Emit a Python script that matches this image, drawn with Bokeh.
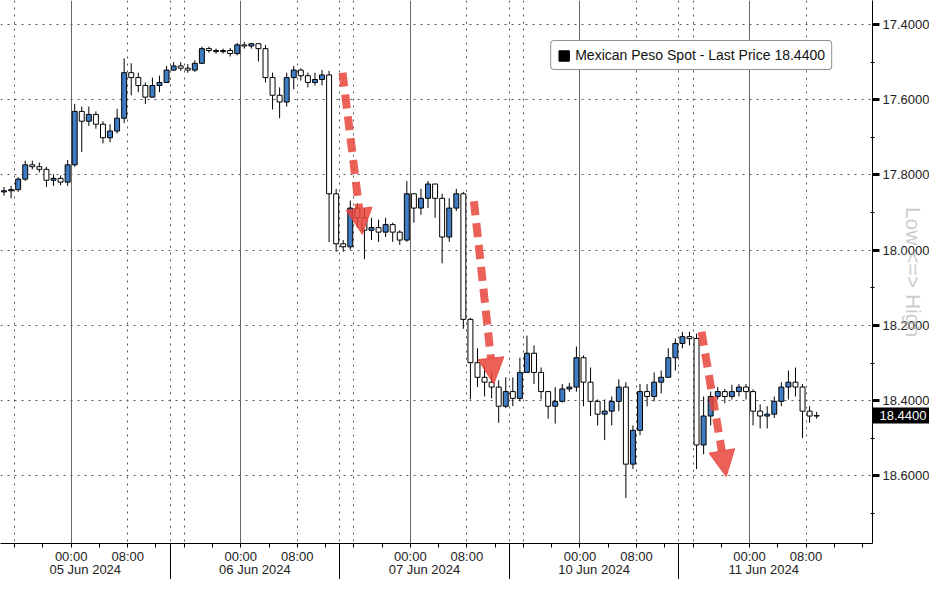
from bokeh.plotting import figure
from bokeh.models import (Range1d, FixedTicker, NumeralTickFormatter, LinearAxis, Grid,
                          Legend, LegendItem, Arrow, NormalHead, ColumnDataSource)
from bokeh.core.properties import value
from bokeh.embed import file_html
from bokeh.resources import INLINE

series_name = "Mexican Peso Spot"
last_price = 18.44

# hourly bars, hours counted from 05 Jun 2024 00:00 (weekend left out)
hours = list(range(-10, 106))
first_open = 17.845
closes = [
    17.842, 17.839, 17.811, 17.773, 17.778, 17.785, 17.814, 17.809, 17.819, 17.773,
    17.631, 17.657, 17.639, 17.665, 17.701, 17.683, 17.649, 17.528, 17.541, 17.562,
    17.593, 17.562, 17.554, 17.521, 17.510, 17.516, 17.521, 17.503, 17.464, 17.469,
    17.472, 17.469, 17.477, 17.454, 17.457, 17.451, 17.464, 17.541, 17.588, 17.606,
    17.541, 17.521, 17.536, 17.554, 17.546, 17.534, 17.850, 17.983, 17.991, 17.888,
    17.914, 17.947, 17.940, 17.952, 17.932, 17.952, 17.973, 17.850, 17.888, 17.862,
    17.824, 17.862, 17.965, 17.888, 17.850, 18.184, 18.299, 18.338, 18.351, 18.364,
    18.415, 18.376, 18.394, 18.325, 18.274, 18.325, 18.376, 18.415, 18.402, 18.369,
    18.364, 18.286, 18.351, 18.402, 18.436, 18.428, 18.402, 18.364, 18.569, 18.479,
    18.376, 18.389, 18.351, 18.338, 18.286, 18.248, 18.230, 18.235, 18.518, 18.441,
    18.389, 18.376, 18.389, 18.376, 18.364, 18.376, 18.428, 18.441, 18.436, 18.402,
    18.364, 18.351, 18.364, 18.428, 18.441, 18.440,
]
lows = [
    17.832, 17.829, 17.806, 17.762, 17.762, 17.767, 17.778, 17.798, 17.801, 17.760,
    17.611, 17.618, 17.618, 17.631, 17.657, 17.665, 17.624, 17.490, 17.503, 17.528,
    17.554, 17.541, 17.536, 17.510, 17.500, 17.500, 17.505, 17.495, 17.459, 17.459,
    17.464, 17.464, 17.462, 17.449, 17.446, 17.449, 17.451, 17.454, 17.528, 17.567,
    17.528, 17.510, 17.516, 17.528, 17.528, 17.521, 17.523, 17.837, 17.973, 17.868,
    17.875, 17.888, 17.914, 17.919, 17.914, 17.927, 17.947, 17.816, 17.850, 17.837,
    17.816, 17.824, 17.850, 17.862, 17.837, 17.845, 18.180, 18.261, 18.307, 18.325,
    18.346, 18.338, 18.338, 18.286, 18.227, 18.253, 18.312, 18.376, 18.364, 18.356,
    18.353, 18.256, 18.280, 18.312, 18.397, 18.397, 18.389, 18.343, 18.351, 18.466,
    18.356, 18.356, 18.325, 18.320, 18.261, 18.235, 18.217, 18.217, 18.222, 18.389,
    18.376, 18.364, 18.369, 18.358, 18.356, 18.356, 18.370, 18.410, 18.415, 18.389,
    18.351, 18.320, 18.312, 18.356, 18.415, 18.430,
]
highs = [
    17.855, 17.862, 17.845, 17.816, 17.785, 17.793, 17.832, 17.829, 17.827, 17.829,
    17.778, 17.739, 17.670, 17.677, 17.716, 17.713, 17.690, 17.662, 17.588, 17.580,
    17.611, 17.593, 17.580, 17.554, 17.523, 17.523, 17.528, 17.526, 17.505, 17.475,
    17.477, 17.477, 17.485, 17.482, 17.464, 17.464, 17.498, 17.554, 17.626, 17.649,
    17.618, 17.572, 17.549, 17.567, 17.562, 17.562, 17.978, 18.004, 18.004, 17.999,
    17.940, 18.024, 17.973, 17.978, 17.965, 17.978, 17.986, 17.978, 17.927, 17.906,
    17.888, 17.914, 18.035, 17.978, 17.896, 18.209, 18.397, 18.364, 18.389, 18.394,
    18.459, 18.420, 18.415, 18.402, 18.325, 18.356, 18.397, 18.448, 18.461, 18.405,
    18.376, 18.376, 18.415, 18.441, 18.466, 18.505, 18.466, 18.428, 18.659, 18.582,
    18.492, 18.415, 18.402, 18.381, 18.338, 18.320, 18.261, 18.253, 18.582, 18.543,
    18.466, 18.397, 18.407, 18.397, 18.389, 18.397, 18.466, 18.474, 18.474, 18.446,
    18.415, 18.397, 18.389, 18.500, 18.459, 18.448,
]

price_ticks = [17.4, 17.6, 17.8, 18.0, 18.2, 18.4, 18.6]
price_minor = [17.5, 17.7, 17.9, 18.1, 18.3, 18.5, 18.7]
hour_ticks = list(range(-8, 113, 4))
midnights = [0, 24, 48, 72, 96]
grid_8h = [-8, 8, 16, 32, 40, 56, 64, 80, 88, 104]
session_breaks = [14, 38, 62, 86]
day_centers = [2, 26, 50, 74, 98]
day_labels = ["05 Jun 2024", "06 Jun 2024", "07 Jun 2024", "10 Jun 2024", "11 Jun 2024"]

# the red "drop" arrows: (hour, price) start -> end
arrow_x0 = [38.4, 57.0, 89.2]
arrow_y0 = [17.528, 17.870, 18.217]
arrow_x1 = [41.2, 59.8, 92.7]
arrow_y1 = [17.958, 18.356, 18.602]

blue = "#3f7cc4"
red = "#e8443a"
font = "Liberation Sans"

opens = [first_open] + closes[:-1]
fills = ["white" if c > o else blue for o, c in zip(opens, closes)]
src = ColumnDataSource(dict(x=[h + 0.5 for h in hours], open=opens, close=closes,
                            high=highs, low=lows, fill=fills))

x_lo, x_hi = -10, 113.4
p = figure(width=929, height=579, x_range=Range1d(x_lo, x_hi), y_range=Range1d(18.78, 17.336),
           y_axis_location="right", output_backend="svg", toolbar_location=None,
           min_border_left=0, min_border_top=0, min_border_right=0, min_border_bottom=0)
p.outline_line_color = None

# grids
p.ygrid.ticker = FixedTicker(ticks=price_ticks)
p.ygrid.grid_line_color = "#555555"
p.ygrid.grid_line_dash = "2 5"
p.xgrid.ticker = FixedTicker(ticks=grid_8h + session_breaks)
p.xgrid.grid_line_color = "#555555"
p.xgrid.grid_line_dash = "2 5"
p.add_layout(Grid(dimension=0, ticker=FixedTicker(ticks=midnights),
                  grid_line_color="#666666", grid_line_width=1))

# time axis; the long minor ticks are the session separators
def time_label(h):
    if h % 24 == 0:
        return "00:00"
    if h % 24 == 8:
        return "08:00"
    return ""

xa = p.xaxis[0]
xa.ticker = FixedTicker(ticks=hour_ticks, minor_ticks=session_breaks)
xa.major_label_overrides = {h: time_label(h) for h in hour_ticks}
xa.axis_line_color = "black"
xa.major_tick_out = 4
xa.major_tick_in = 0
xa.major_tick_line_color = "black"
xa.minor_tick_out = 36
xa.minor_tick_in = 0
xa.minor_tick_line_color = "black"
xa.major_label_standoff = -31
xa.major_label_text_font = font
xa.major_label_text_font_size = "13px"
xa.major_label_text_color = "#222222"

# date row
da = LinearAxis(ticker=FixedTicker(ticks=day_centers, minor_ticks=[]),
                major_label_overrides=dict(zip(day_centers, day_labels)),
                axis_line_color=None, major_tick_line_color=None, minor_tick_line_color=None,
                major_tick_out=0, major_tick_in=0, minor_tick_out=0, minor_tick_in=0,
                major_label_standoff=-5, axis_label_standoff=0, major_label_text_font=font,
                major_label_text_font_size="13px", major_label_text_color="#222222")
p.add_layout(da, "below")

# price axis; the minor tick at the last price is the black price tag
ya = p.yaxis[0]
ya.ticker = FixedTicker(ticks=price_ticks, minor_ticks=[last_price])
ya.formatter = NumeralTickFormatter(format="0.0000")
ya.axis_line_color = "black"
ya.major_tick_out = 7
ya.major_tick_in = 0
ya.major_tick_line_width = 3
ya.major_tick_line_color = "black"
ya.minor_tick_out = 58
ya.minor_tick_in = 0
ya.minor_tick_line_width = 16
ya.minor_tick_line_color = "black"
ya.major_label_standoff = -48
ya.major_label_text_font = font
ya.major_label_text_font_size = "13px"
ya.major_label_text_color = "#222222"
ya.axis_label = "Low <=> High"
ya.axis_label_standoff = -30
ya.axis_label_text_font = font
ya.axis_label_text_font_size = "21px"
ya.axis_label_text_font_style = "normal"
ya.axis_label_text_color = "#a8a8a8"
ya.axis_label_text_alpha = 0.6

# white text of the price tag, plus the small half-step ticks reaching back to the axis line
tag = LinearAxis(ticker=FixedTicker(ticks=[last_price], minor_ticks=price_minor),
                 formatter=NumeralTickFormatter(format="0.0000"),
                 axis_line_color=None, major_tick_line_color=None,
                 minor_tick_line_color="black", minor_tick_in=58, minor_tick_out=-54,
                 major_tick_out=0, major_tick_in=0,
                 major_label_standoff=-49, major_label_text_font=font,
                 major_label_text_font_size="13px", major_label_text_color="white")
p.add_layout(tag, "right")

# candles
p.segment(x0="x", y0="high", x1="x", y1="low", source=src, line_color="black", line_width=1)
p.vbar(x="x", width=0.7, top="open", bottom="close", source=src,
       fill_color="fill", line_color="black", line_width=1)

# arrows
arrow_src = ColumnDataSource(dict(x0=arrow_x0, y0=arrow_y0, x1=arrow_x1, y1=arrow_y1))
p.add_layout(Arrow(end=NormalHead(size=26, fill_color=red, line_color=red,
                                  fill_alpha=0.85, line_alpha=0.85),
                   x_start="x0", y_start="y0", x_end="x1", y_end="y1", source=arrow_src,
                   line_color=red, line_width=8, line_dash="14 8", line_alpha=0.85))

# legend (black swatch from a hidden copy of the bars)
leg_r = p.vbar(x="x", width=0.7, top="open", bottom="close", source=src,
               fill_color="black", line_color="black", visible=False)
legend = Legend(items=[LegendItem(label=value(f"{series_name} - Last Price {last_price:.4f}"),
                                  renderers=[leg_r])],
                location="top_right", margin=40, padding=6, spacing=0,
                glyph_width=13, glyph_height=13, label_standoff=5, label_height=14,
                label_text_font=font, label_text_font_size="14px", label_text_color="#111111",
                border_line_color="#222222", border_line_width=1,
                background_fill_color="white", background_fill_alpha=1,
                inactive_fill_alpha=0)
if "border_radius" in Legend.properties():
    legend.border_radius = 4
p.add_layout(legend)

open("out.html", "w").write(file_html(p, INLINE))
